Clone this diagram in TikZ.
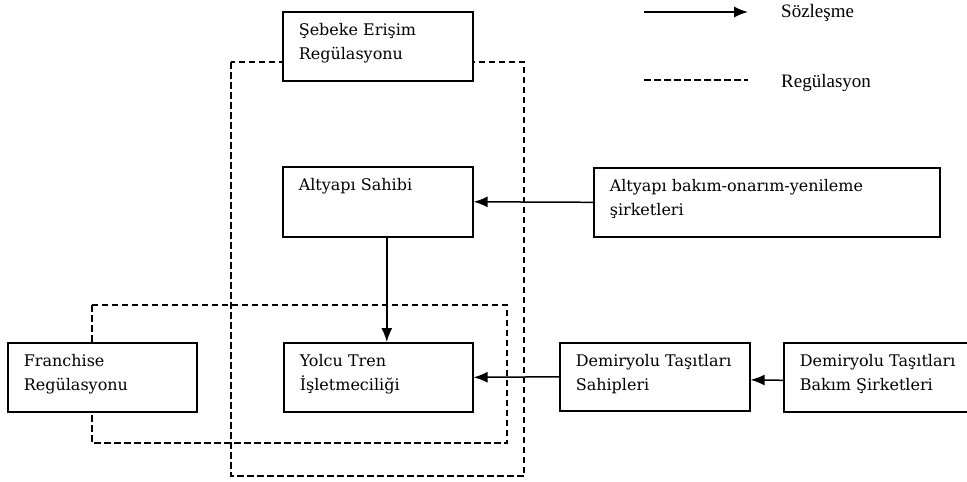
\documentclass[tikz,border=0pt]{standalone}
\usepackage{fontspec}
\setmainfont{Liberation Serif}
\newfontfamily\boxfont{DejaVu Serif}
\usetikzlibrary{arrows.meta}
\newcommand\bxt[3]{\parbox[t][#2][t]{#1}{\vspace*{12pt}\boxfont\fontsize{16}{24}\selectfont\raggedright\rule{0pt}{12pt}#3}}
\tikzset{
  boxn/.style={draw, line width=1.6pt, fill=white, inner xsep=16pt, inner ysep=0pt, anchor=north west},
  arr/.style={line width=1.5pt, -{Latex[length=14pt,width=11pt]}},
  reg/.style={line width=1.5pt, dash pattern=on 6.5pt off 3.5pt},
  legtext/.style={inner sep=0pt, anchor=base west, font=\fontsize{19}{22}\selectfont}
}
\begin{document}
\begin{tikzpicture}[x=1pt,y=-1pt]
\useasboundingbox (0,0) rectangle (967,482);
% regulation frames
\draw[reg] (231,62) rectangle (524,476);
\draw[reg] (92,305) rectangle (507,443);
% boxes
\node[boxn] (seb) at (282,11) {\bxt{158pt}{69pt}{Şebeke Erişim\\Regülasyonu}};
\node[boxn] (alt) at (282,166) {\bxt{158pt}{70pt}{Altyapı Sahibi}};
\node[boxn] (bak) at (593,167) {\bxt{314pt}{69pt}{Altyapı bakım-onarım-yenileme\\şirketleri}};
\node[boxn] (fr) at (7,342) {\bxt{157pt}{69pt}{Franchise\\Regülasyonu}};
\node[boxn] (yol) at (283,342) {\bxt{157pt}{69pt}{Yolcu Tren\\İşletmeciliği}};
\node[boxn] (dts) at (559,342) {\bxt{158pt}{68pt}{Demiryolu Taşıtları\\Sahipleri}};
\node[boxn] (dtb) at (783,342) {\bxt{168pt}{69pt}{Demiryolu Taşıtları\\Bakım Şirketleri}};
% contracts
\draw[arr] (bak.west) -- (alt.east);
\draw[arr] ([xshift=9pt]alt.south) -- ([xshift=9pt]alt.south |- yol.north);
\draw[arr] (dts.west) -- (yol.east);
\draw[arr] ([yshift=-3pt]dtb.west) -- ([yshift=-3pt]dts.east);
% legend
\coordinate (s1) at (644,12);
\coordinate (s2) at (748,12);
\draw[arr] (s1) -- (s2);
\node[legtext] (ls) at (781,17.5) {Sözleşme};
\coordinate (r1) at (644,80);
\coordinate (r2) at (748,80);
\draw[reg] (r1) -- (r2);
\node[legtext] (lr) at (781,87) {Regülasyon};
\end{tikzpicture}
\end{document}
